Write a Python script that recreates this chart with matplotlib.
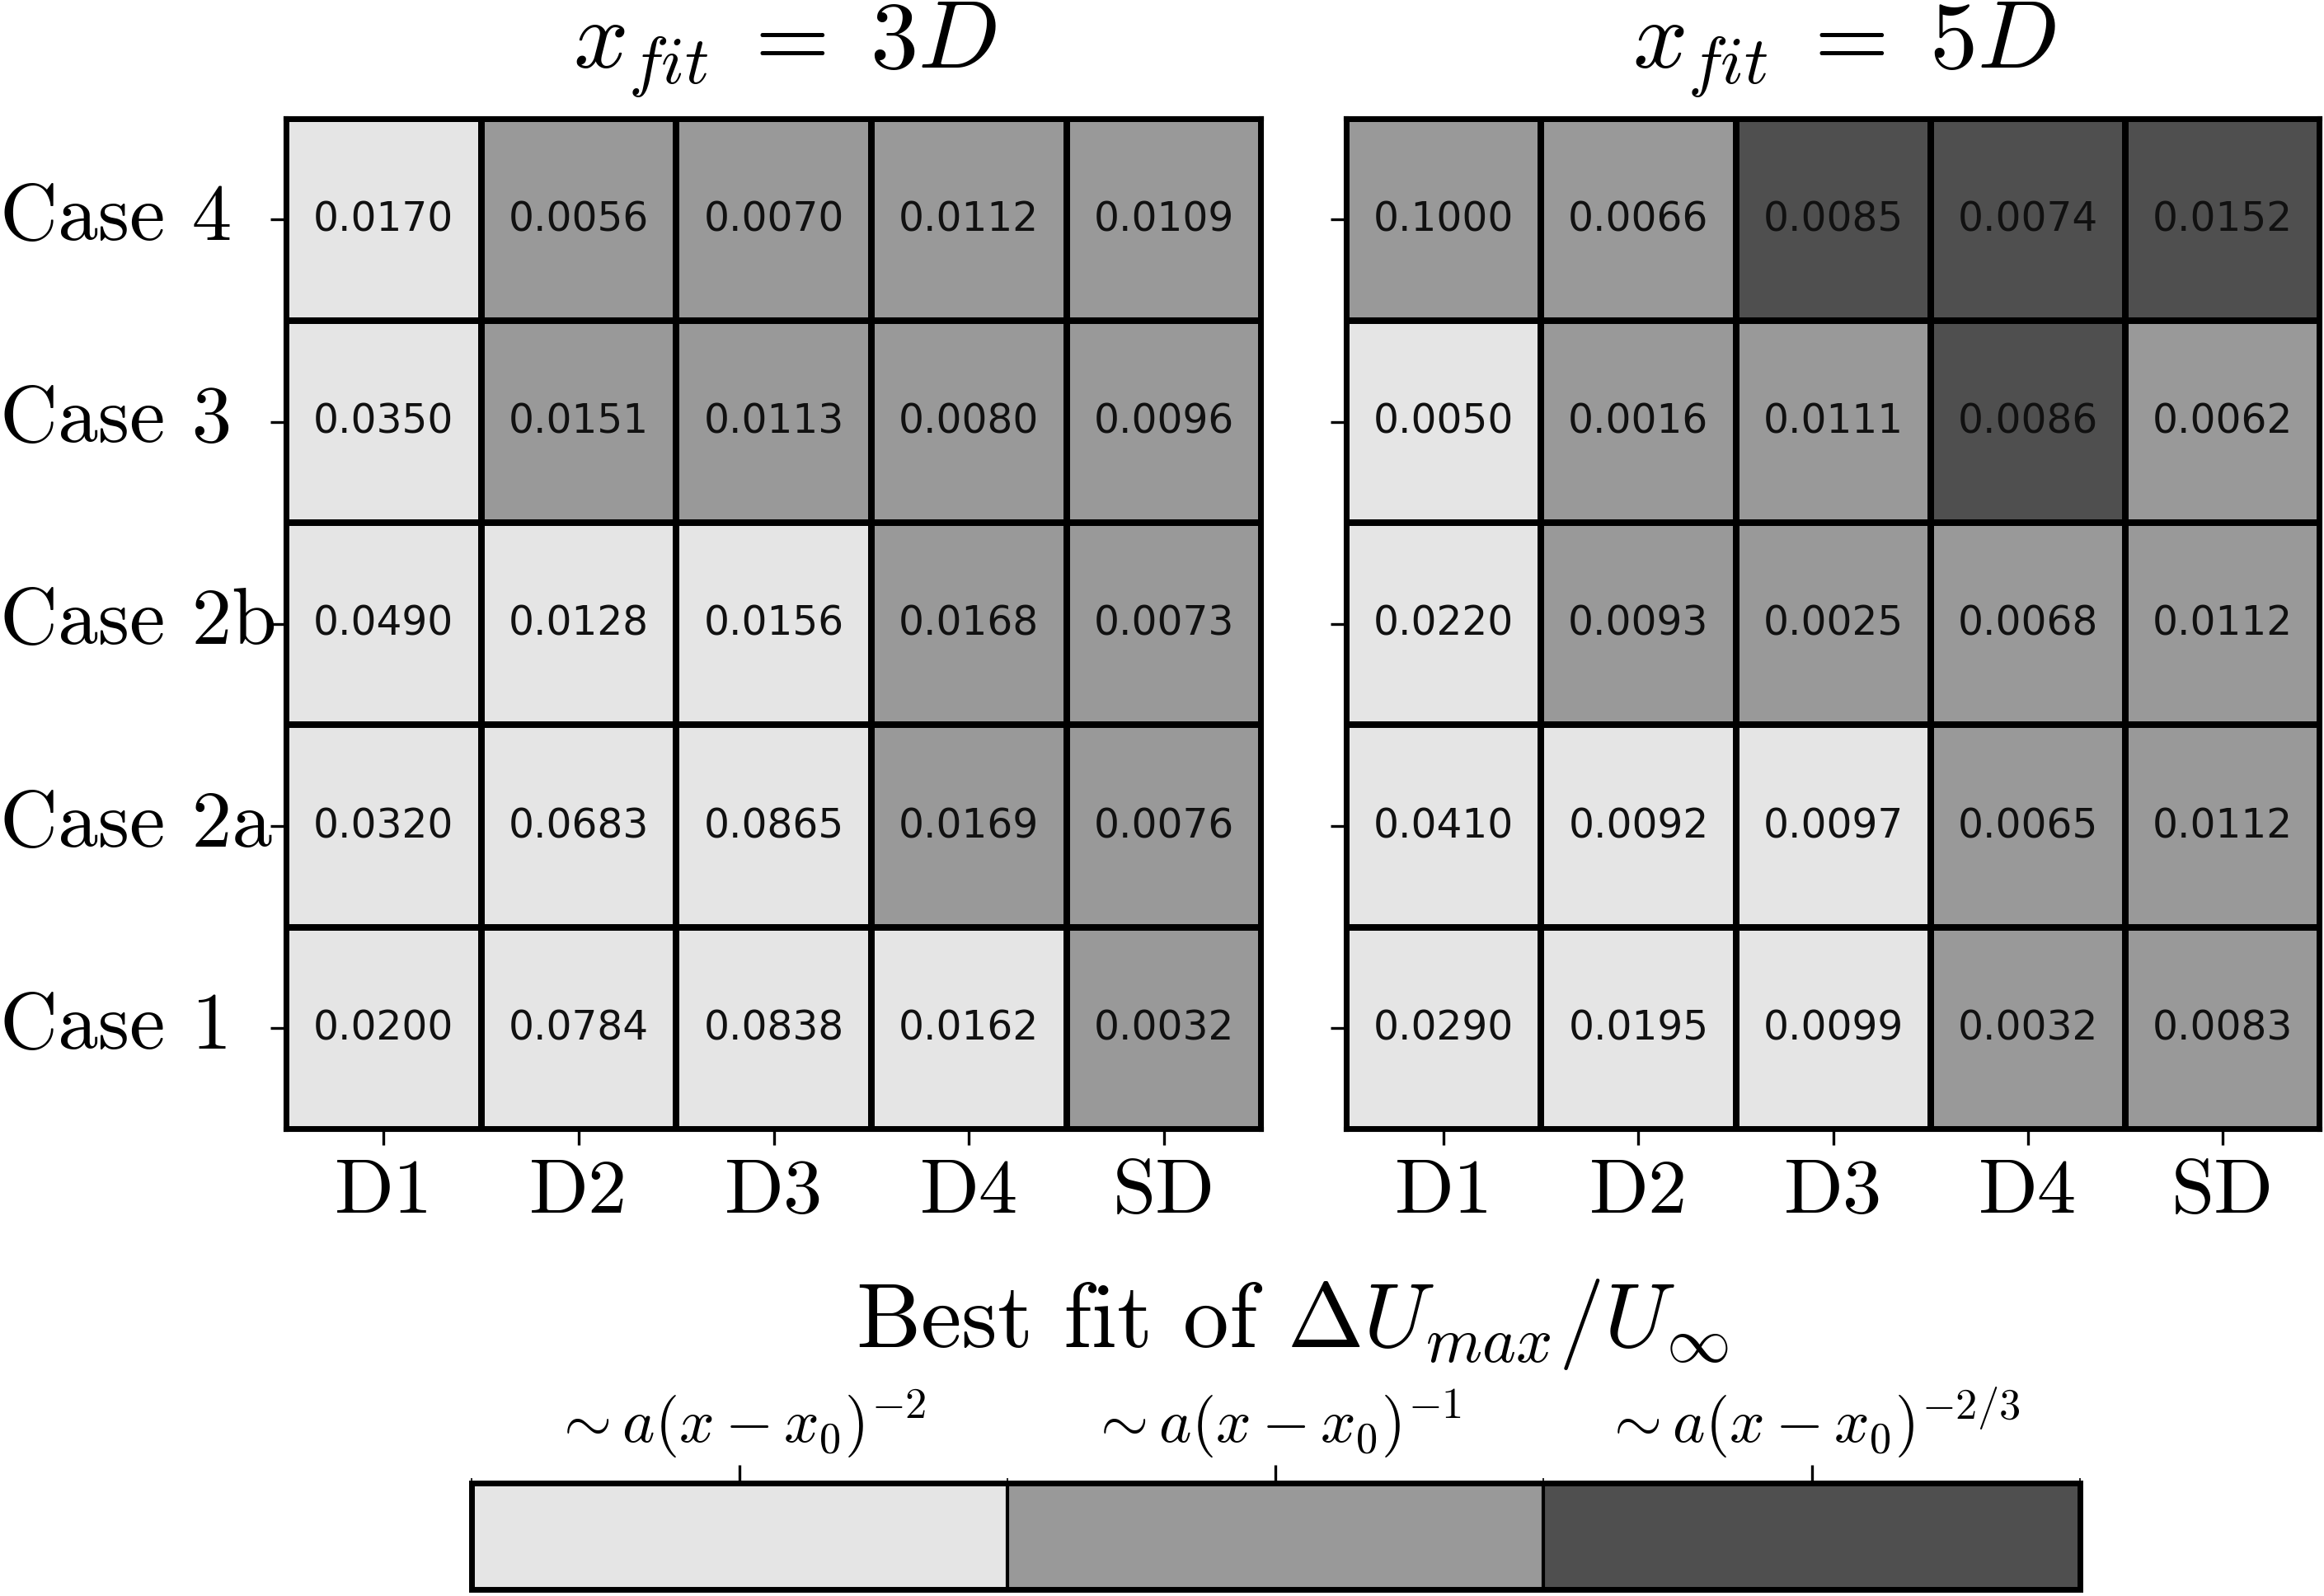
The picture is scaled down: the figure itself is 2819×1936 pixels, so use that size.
import numpy as np
import matplotlib
matplotlib.use("Agg")
from matplotlib import pyplot as plt
from matplotlib.colors import ListedColormap, BoundaryNorm
from matplotlib.transforms import blended_transform_factory

plt.rcParams['font.family'] = 'serif'
plt.rcParams['font.serif'] = ['cmr10', 'DejaVu Serif']
plt.rcParams['mathtext.fontset'] = 'cm'
plt.rcParams['axes.unicode_minus'] = False
plt.rcParams['axes.formatter.use_mathtext'] = True

cases = ['Case 4', 'Case 3', 'Case 2b', 'Case 2a', 'Case 1']
methods = ['D1', 'D2', 'D3', 'D4', 'SD']

# best-fit class: 0 -> (x-x0)^-2, 1 -> (x-x0)^-1, 2 -> (x-x0)^-2/3
fit_3d = [[0, 1, 1, 1, 1],
          [0, 1, 1, 1, 1],
          [0, 0, 0, 1, 1],
          [0, 0, 0, 1, 1],
          [0, 0, 0, 0, 1]]
err_3d = [[0.0170, 0.0056, 0.0070, 0.0112, 0.0109],
          [0.0350, 0.0151, 0.0113, 0.0080, 0.0096],
          [0.0490, 0.0128, 0.0156, 0.0168, 0.0073],
          [0.0320, 0.0683, 0.0865, 0.0169, 0.0076],
          [0.0200, 0.0784, 0.0838, 0.0162, 0.0032]]

fit_5d = [[1, 1, 2, 2, 2],
          [0, 1, 1, 2, 1],
          [0, 1, 1, 1, 1],
          [0, 0, 0, 1, 1],
          [0, 0, 0, 1, 1]]
err_5d = [[0.1000, 0.0066, 0.0085, 0.0074, 0.0152],
          [0.0050, 0.0016, 0.0111, 0.0086, 0.0062],
          [0.0220, 0.0093, 0.0025, 0.0068, 0.0112],
          [0.0410, 0.0092, 0.0097, 0.0065, 0.0112],
          [0.0290, 0.0195, 0.0099, 0.0032, 0.0083]]

fit_labels = [r'$\sim a(x-x_0)^{-2}$', r'$\sim a(x-x_0)^{-1}$', r'$\sim a(x-x_0)^{-2/3}$']
colors = ['#e5e5e5', '#999999', '#4f4f4f']

cmap = ListedColormap(colors)
norm = BoundaryNorm([-0.5, 0.5, 1.5, 2.5], cmap.N)

fig = plt.figure(figsize=(14.095, 9.68), dpi=200)
ax1 = fig.add_axes([0.1231, 0.2924, 0.4197, 0.6333])
ax2 = fig.add_axes([0.5793, 0.2924, 0.4190, 0.6333])


def heat(ax, fit, err, title):
    fit = np.array(fit)
    err = np.array(err)
    mesh = ax.pcolormesh(np.arange(6), np.arange(6), fit, cmap=cmap, norm=norm,
                         edgecolors='k', linewidth=2.2)
    for i in range(fit.shape[0]):
        for j in range(fit.shape[1]):
            ax.text(j + 0.5, i + 0.5, f"{err[i, j]:.4f}", ha='center', va='center',
                    fontsize=17.5, family='DejaVu Sans', color='#111111')
    ax.set_xlim(0, 5)
    ax.set_ylim(5, 0)
    ax.set_xticks(np.arange(5) + 0.5)
    ax.set_xticklabels(methods, fontsize=34)
    ax.set_yticks(np.arange(5) + 0.5)
    ax.set_yticklabels([])
    ax.tick_params(axis='both', length=7, width=1.2, pad=6)
    ax.set_title(title, fontsize=42, pad=22)
    for s in ax.spines.values():
        s.set_linewidth(2.2)
    return mesh


mesh = heat(ax1, fit_3d, err_3d, r'$\;x_{fit}\;=\;3D$')
heat(ax2, fit_5d, err_5d, r'$\;x_{fit}\;=\;5D$')

# case labels, left aligned at the figure edge
tr = blended_transform_factory(fig.transFigure, ax1.transData)
for i, c in enumerate(cases):
    fig.text(0.0, i + 0.5, c, transform=tr, ha='left', va='center', fontsize=35)

cax = fig.add_axes([0.2029, 0.004, 0.692, 0.067])
cb = fig.colorbar(mesh, cax=cax, orientation='horizontal', ticks=[0, 1, 2], drawedges=True)
cb.ax.xaxis.set_ticks_position('top')
cb.set_ticklabels(fit_labels)
cb.ax.tick_params(labelsize=27, length=8, width=1.2, pad=2)
cb.outline.set_linewidth(2.5)
cb.dividers.set_linewidth(1.5)
fig.text(0.556, 0.170, r'Best fit of $\Delta U_{max}/U_\infty$', ha='center', va='center',
         fontsize=40)

plt.savefig("out.png", dpi=200)
